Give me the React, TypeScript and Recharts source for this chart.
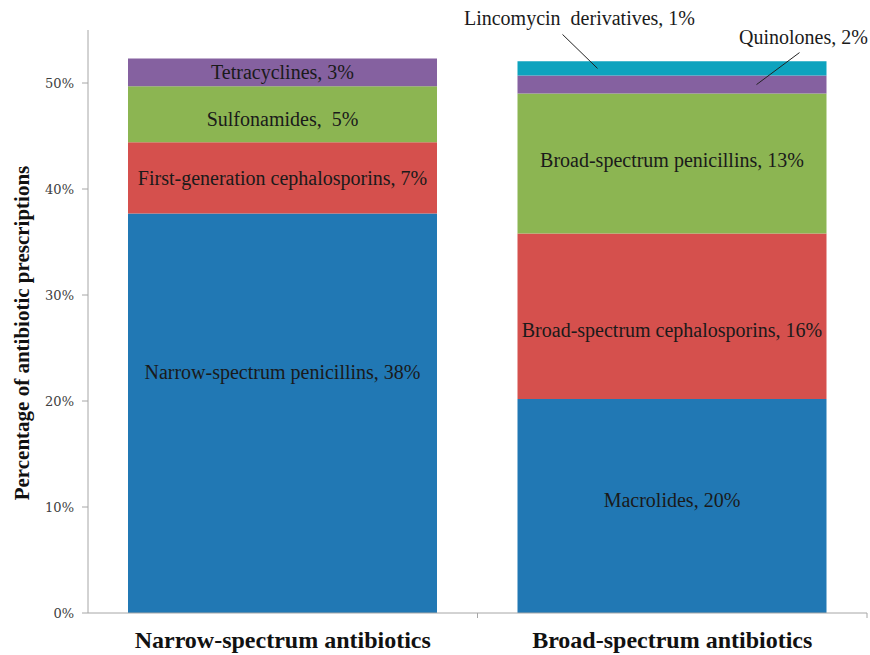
import { Bar, BarChart, Label, XAxis, YAxis } from 'recharts';

const categories = ['Narrow-spectrum antibiotics', 'Broad-spectrum antibiotics'];

// stacked from the bottom up
const level1 = [37.7, 20.2];
const level2 = [6.7, 15.6];
const level3 = [5.3, 13.2];
const level4 = [2.6, 1.7];
const level5 = [0, 1.35];

const level1Names = ['Narrow-spectrum penicillins, 38%', 'Macrolides, 20%'];
const level2Names = ['First-generation cephalosporins, 7%', 'Broad-spectrum cephalosporins, 16%'];
const level3Names = ['Sulfonamides,  5%', 'Broad-spectrum penicillins, 13%'];
const level4Names = ['Tetracyclines, 3%', 'Quinolones, 2%'];
const level5Names = ['', 'Lincomycin  derivatives, 1%'];

const yTicks = [0, 10, 20, 30, 40, 50];

const data = categories.map((name, i) => ({
    name,
    l1: level1[i],
    l2: level2[i],
    l3: level3[i],
    l4: level4[i],
    l5: level5[i],
}));

const COLORS = ['#2178b4', '#d5504d', '#8cb552', '#8561a0', '#0da3be'];
const SERIF = '"Liberation Serif", "Times New Roman", serif';
const PLOT_LEFT = 88;
const BAND = 389.5;

const textStyle = {
    fontFamily: SERIF,
    fontSize: 20,
    fill: '#1a1a1a',
    whiteSpace: 'pre' as const,
};

// which category a segment belongs to, from its position
const catIndex = (x: number, width: number) =>
    Math.max(0, Math.min(categories.length - 1, Math.floor((x + width / 2 - PLOT_LEFT) / BAND)));

// centered label inside the segment
function insideLabel(names: string[], nudge: number[] = [0, 0]) {
    return (props: any) => {
        const { x, y, width, height } = props;
        const i = catIndex(x, width);
        const text = names[i];
        if (!text) return null;
        return (
            <text
                x={x + width / 2}
                y={y + height / 2 + nudge[i]}
                textAnchor="middle"
                dominantBaseline="central"
                style={textStyle}
            >
                {text}
            </text>
        );
    };
}

// thin segments on the right bar get a leader line to a label above
function calloutLabel(names: string[], lx: number, tx: number, ty: number, tdx: number) {
    return (props: any) => {
        const { x, y, width, height } = props;
        const i = catIndex(x, width);
        const text = names[i];
        if (!text) return null;
        if (i === 0) return insideLabel(names)(props);
        const my = y + height / 2;
        return (
            <g>
                <line
                    x1={x + lx}
                    y1={my}
                    x2={x + tx}
                    y2={my + ty}
                    stroke="#222"
                    strokeWidth={1}
                />
                <text
                    x={x + tdx}
                    y={my + ty - 16}
                    textAnchor="middle"
                    dominantBaseline="central"
                    style={textStyle}
                >
                    {text}
                </text>
            </g>
        );
    };
}

function XTick(props: any) {
    const { x, y, payload } = props;
    return (
        <g>
            <line
                x1={x + BAND / 2}
                y1={y}
                x2={x + BAND / 2}
                y2={y + 5}
                stroke="#a6a6a6"
            />
            <text
                x={x}
                y={y + 35}
                textAnchor="middle"
                style={{
                    fontFamily: SERIF,
                    fontSize: 24,
                    fontWeight: 'bold',
                    fill: '#111',
                }}
            >
                {payload.value}
            </text>
        </g>
    );
}

function YTitle() {
    return (
        <text
            x={22}
            y={333}
            transform="rotate(-90, 22, 333)"
            textAnchor="middle"
            dominantBaseline="central"
            style={{
                fontFamily: SERIF,
                fontSize: 21,
                fontWeight: 'bold',
                fill: '#111',
            }}
        >
            Percentage of antibiotic prescriptions
        </text>
    );
}

export default function App() {
    return (
        <div style={{ position: 'absolute', left: 0, top: 0, background: '#fff' }}>
            <BarChart
                width={870}
                height={655}
                data={data}
                margin={{ top: 30, right: 3, bottom: 0, left: 0 }}
                barSize={309}
            >
                <XAxis
                    dataKey="name"
                    height={42}
                    stroke="#a6a6a6"
                    tickLine={false}
                    tickSize={0}
                    tickMargin={0}
                    tick={<XTick />}
                    interval={0}
                />
                <YAxis
                    width={88}
                    domain={[0, 55]}
                    ticks={yTicks}
                    allowDataOverflow
                    stroke="#a6a6a6"
                    tickSize={6}
                    tickMargin={8}
                    tickFormatter={(v: number) => `${v}%`}
                    tick={{
                        fontFamily: '"DejaVu Serif", serif',
                        fontSize: 13,
                        fill: '#404040',
                    }}
                >
                    <Label content={<YTitle />} />
                </YAxis>
                <Bar dataKey="l1" stackId="a" fill={COLORS[0]} isAnimationActive={false} label={insideLabel(level1Names, [-41, -6])} />
                <Bar dataKey="l2" stackId="a" fill={COLORS[1]} isAnimationActive={false} label={insideLabel(level2Names, [0, 14])} />
                <Bar dataKey="l3" stackId="a" fill={COLORS[2]} isAnimationActive={false} label={insideLabel(level3Names, [5, -4])} />
                <Bar
                    dataKey="l4"
                    stackId="a"
                    fill={COLORS[3]}
                    isAnimationActive={false}
                    label={calloutLabel(level4Names, 239, 282, -32, 286)}
                />
                <Bar
                    dataKey="l5"
                    stackId="a"
                    fill={COLORS[4]}
                    isAnimationActive={false}
                    label={calloutLabel(level5Names, 80, 45, -34, 62)}
                />
            </BarChart>
        </div>
    );
}
